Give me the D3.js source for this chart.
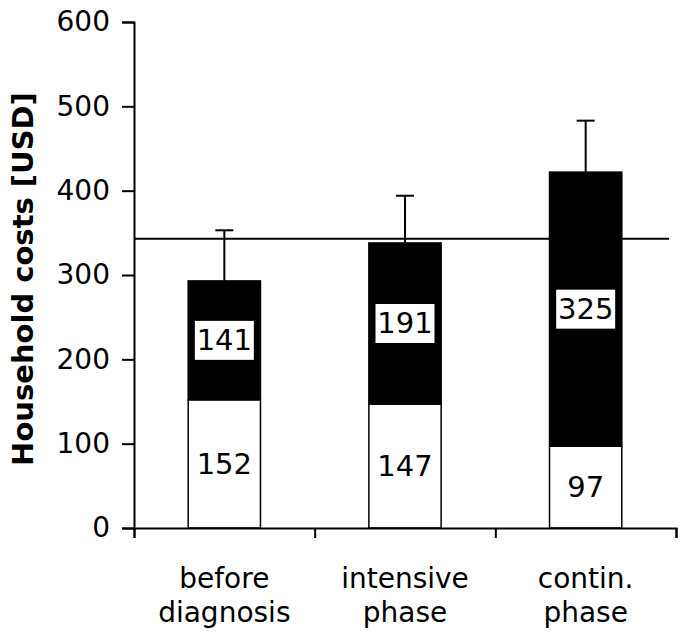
<!DOCTYPE html>
<html>
<head>
<meta charset="utf-8">
<script src="https://cdn.jsdelivr.net/npm/d3@7"></script>
<style>
  html, body { margin: 0; padding: 0; background: #fff; }
  svg { display: block; font-family: "DejaVu Sans", Verdana, sans-serif; }
</style>
</head>
<body>
<svg id="chart" width="685" height="637"></svg>
<script>
const categories = [["before", "diagnosis"], ["intensive", "phase"], ["contin.", "phase"]];
const whiteValues = [152, 147, 97];
const blackValues = [141, 191, 325];
const errorTops = [353, 394, 483];
const referenceLine = 343;
const yTicks = [0, 100, 200, 300, 400, 500, 600];
const yTitle = "Household costs [USD]";

const svg = d3.select("#chart");
const left = 134, right = 676;

const x = d3.scaleBand()
  .domain(d3.range(categories.length))
  .range([left, right])
  .paddingInner(0).paddingOuter(0);
const y = d3.scaleLinear().domain([0, 600]).range([528, 22]);

const bw = x.bandwidth() * 0.4;
const g = svg.append("g");

const bars = g.selectAll(".bar").data(d3.range(categories.length)).enter().append("g");
bars.append("rect")
  .attr("x", i => x(i) + (x.bandwidth() - bw) / 2)
  .attr("width", bw)
  .attr("y", i => y(whiteValues[i]))
  .attr("height", i => y(0) - y(whiteValues[i]))
  .attr("fill", "#fff").attr("stroke", "#000").attr("stroke-width", 1.5);
bars.append("rect")
  .attr("x", i => x(i) + (x.bandwidth() - bw) / 2)
  .attr("width", bw)
  .attr("y", i => y(whiteValues[i] + blackValues[i]))
  .attr("height", i => y(whiteValues[i]) - y(whiteValues[i] + blackValues[i]))
  .attr("fill", "#000").attr("stroke", "#000").attr("stroke-width", 1.5);

// error bars
bars.append("line")
  .attr("x1", i => x(i) + x.bandwidth() / 2).attr("x2", i => x(i) + x.bandwidth() / 2)
  .attr("y1", i => y(whiteValues[i] + blackValues[i])).attr("y2", i => y(errorTops[i]))
  .attr("stroke", "#000").attr("stroke-width", 2);
bars.append("line")
  .attr("x1", i => x(i) + x.bandwidth() / 2 - 9).attr("x2", i => x(i) + x.bandwidth() / 2 + 9)
  .attr("y1", i => y(errorTops[i])).attr("y2", i => y(errorTops[i]))
  .attr("stroke", "#000").attr("stroke-width", 2);

// value labels
bars.each(function(i) {
  const gg = d3.select(this);
  const cx = x(i) + x.bandwidth() / 2;
  const cyB = y(whiteValues[i] + blackValues[i] / 2);
  gg.append("rect")
    .attr("x", cx - 29.5).attr("width", 59)
    .attr("y", cyB - 19.5).attr("height", 39)
    .attr("fill", "#fff");
  gg.append("text").attr("x", cx).attr("y", cyB)
    .attr("text-anchor", "middle").attr("dominant-baseline", "central")
    .attr("font-size", 29).text(blackValues[i]);
  const cyW = y(whiteValues[i] / 2);
  gg.append("text").attr("x", cx).attr("y", cyW)
    .attr("text-anchor", "middle").attr("dominant-baseline", "central")
    .attr("font-size", 29).text(whiteValues[i]);
});

// reference line
g.append("line")
  .attr("x1", left).attr("x2", 669)
  .attr("y1", y(referenceLine)).attr("y2", y(referenceLine))
  .attr("stroke", "#000").attr("stroke-width", 2);

// y axis
const yAxis = g.append("g").attr("transform", `translate(${left},0)`)
  .call(d3.axisLeft(y).tickValues(yTicks).tickSize(12).tickPadding(12));
yAxis.select(".domain").attr("stroke-width", 2);
yAxis.selectAll(".tick line").attr("stroke-width", 2);
yAxis.selectAll(".tick text").attr("font-size", 28)
  .attr("font-family", "DejaVu Sans, Verdana, sans-serif").attr("fill", "#000");

// x axis
const xAxis = g.append("g").attr("transform", `translate(0,${y(0)})`)
  .call(d3.axisBottom(d3.scaleLinear().domain([0, 3]).range([left, right]))
    .tickValues([0, 1, 2, 3]).tickSize(10).tickFormat(""));
xAxis.select(".domain").attr("stroke-width", 2);
xAxis.selectAll(".tick line").attr("stroke-width", 2);

// category labels
categories.forEach((c, i) => {
  const cx = x(i) + x.bandwidth() / 2;
  const t = g.append("text").attr("x", cx).attr("y", 588)
    .attr("text-anchor", "middle").attr("font-size", 28);
  t.append("tspan").attr("x", cx).attr("dy", 0).text(c[0]);
  t.append("tspan").attr("x", cx).attr("dy", 34).text(c[1]);
});

// y title
g.append("text")
  .attr("transform", `translate(33,279) rotate(-90)`)
  .attr("text-anchor", "middle").attr("font-weight", "bold").attr("font-size", 29)
  .text(yTitle);
</script>
</body>
</html>
